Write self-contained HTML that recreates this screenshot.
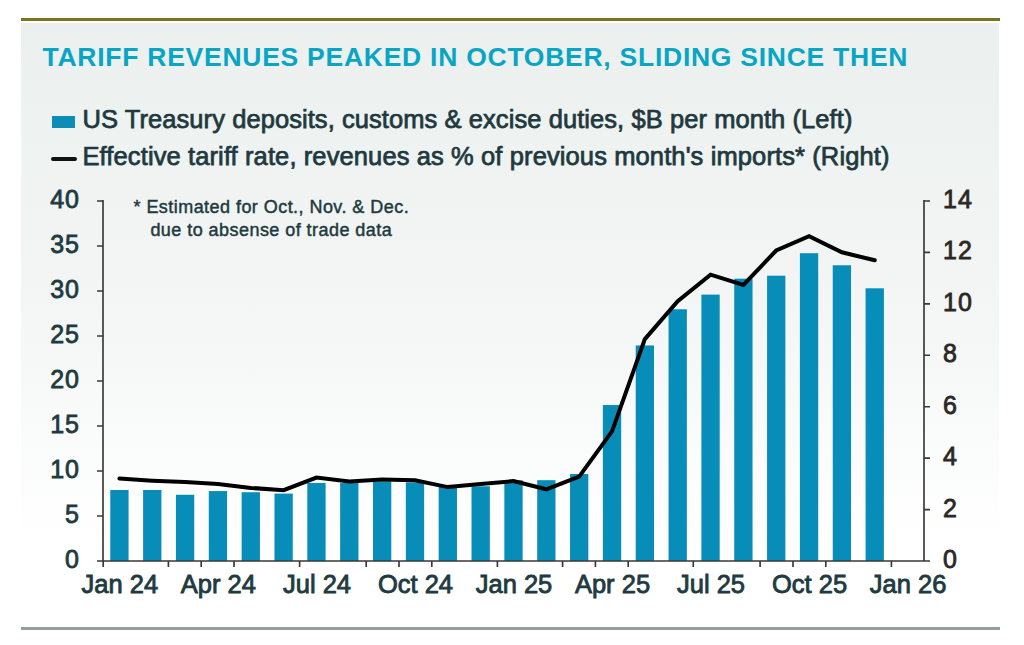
<!DOCTYPE html>
<html><head><meta charset="utf-8"><style>
html,body{margin:0;padding:0;background:#fff;}
body{width:1024px;height:645px;position:relative;overflow:hidden;font-family:"Liberation Sans",sans-serif;}
.topline{position:absolute;left:21px;top:18px;width:978.5px;height:3px;background:#7b7320;}
.panel{position:absolute;left:21px;top:23px;width:978px;height:560px;background:linear-gradient(#ebf0ef 0%,#f2f5f4 45%,#ffffff 93%);}
.botline{position:absolute;left:21px;top:626.5px;width:978.5px;height:3.5px;background:#939e9e;}
.title{position:absolute;left:42.5px;top:42.3px;font-size:26.5px;font-weight:bold;color:#09a5c4;white-space:nowrap;letter-spacing:0.74px;}
.leg{position:absolute;left:82.5px;font-size:25.5px;color:#21393e;white-space:nowrap;-webkit-text-stroke:0.75px #21393e;}
.legsq{position:absolute;left:52px;top:115.5px;width:22.5px;height:12.5px;background:#0b8db7;}
.legln{position:absolute;left:51px;top:157px;width:25.5px;height:4px;border-radius:2px;background:#111;}
.note{position:absolute;left:271.3px;top:196px;transform:translateX(-50%);font-size:18px;line-height:22.8px;letter-spacing:0.45px;color:#21393e;text-align:center;white-space:nowrap;-webkit-text-stroke:0.45px #21393e;}
.yl{position:absolute;right:944px;font-size:25px;color:#203a3f;line-height:0;white-space:nowrap;letter-spacing:1px;-webkit-text-stroke:0.8px #203a3f;}
.yr{position:absolute;left:943px;font-size:25px;color:#2d2724;line-height:0;white-space:nowrap;letter-spacing:1px;-webkit-text-stroke:0.8px #2d2724;}
.xl{position:absolute;top:584px;margin-left:0.5px;transform:translateX(-50%);font-size:25.5px;color:#203a3f;line-height:0;white-space:nowrap;letter-spacing:0px;-webkit-text-stroke:0.85px #203a3f;}
svg{position:absolute;left:0;top:0;}
</style></head><body>
<div class="topline"></div>
<div class="panel"></div>
<div class="botline"></div>
<div class="title">TARIFF REVENUES PEAKED IN OCTOBER, SLIDING SINCE THEN</div>
<div class="legsq"></div>
<div class="legln"></div>
<div class="leg" style="top:104.5px;letter-spacing:0.07px">US Treasury deposits, customs &amp; excise duties, $B per month (Left)</div>
<div class="leg" style="top:142px;letter-spacing:0.11px">Effective tariff rate, revenues as % of previous month's imports* (Right)</div>
<svg width="1024" height="645" viewBox="0 0 1024 645">
<rect x="103" y="201" width="821" height="360" fill="none"/>
<g fill="#078db7"><rect x="110.27" y="489.99" width="18.3" height="71.01"/><rect x="143.11" y="489.99" width="18.3" height="71.01"/><rect x="175.95" y="494.76" width="18.3" height="66.24"/><rect x="208.79" y="491.07" width="18.3" height="69.93"/><rect x="241.63" y="492.24" width="18.3" height="68.76"/><rect x="274.47" y="493.59" width="18.3" height="67.41"/><rect x="307.31" y="482.97" width="18.3" height="78.03"/><rect x="340.15" y="482.97" width="18.3" height="78.03"/><rect x="372.99" y="481.80" width="18.3" height="79.20"/><rect x="405.83" y="482.34" width="18.3" height="78.66"/><rect x="438.67" y="486.57" width="18.3" height="74.43"/><rect x="471.51" y="486.30" width="18.3" height="74.70"/><rect x="504.35" y="480.18" width="18.3" height="80.82"/><rect x="537.19" y="480.18" width="18.3" height="80.82"/><rect x="570.03" y="474.06" width="18.3" height="86.94"/><rect x="602.87" y="405.03" width="18.3" height="155.97"/><rect x="635.71" y="345.45" width="18.3" height="215.55"/><rect x="668.55" y="309.27" width="18.3" height="251.73"/><rect x="701.39" y="294.60" width="18.3" height="266.40"/><rect x="734.23" y="278.67" width="18.3" height="282.33"/><rect x="767.07" y="275.70" width="18.3" height="285.30"/><rect x="799.91" y="253.20" width="18.3" height="307.80"/><rect x="832.75" y="265.26" width="18.3" height="295.74"/><rect x="865.59" y="288.30" width="18.3" height="272.70"/></g>
<path d="M103 200V561H930M924 200V561M103.2 561V567M168.4 561V567M201.2 561V567M234.0 561V567M299.6 561V567M366.2 561V567M399.0 561V567M431.8 561V567M497.4 561V567M562.6 561V567M595.4 561V567M628.2 561V567M693.3 561V567M760.1 561V567M793.0 561V567M825.8 561V567M891.4 561V567M97 561.00H103M97 516.00H103M97 471.00H103M97 426.00H103M97 381.00H103M97 336.00H103M97 291.00H103M97 246.00H103M97 201.00H103M924 561.00H930M924 509.57H930M924 458.14H930M924 406.71H930M924 355.29H930M924 303.86H930M924 252.43H930M924 201.00H930" stroke="#3a3836" stroke-width="1.65" fill="none"/>
<polyline points="119.42,478.60 152.26,480.70 185.10,482.10 217.94,484.10 250.78,487.90 283.62,490.20 316.46,477.60 349.30,481.40 382.14,479.50 414.98,480.30 447.82,487.10 480.66,483.90 513.50,481.10 546.34,489.30 579.18,476.70 612.02,431.30 644.86,339.10 677.70,301.30 710.54,274.70 743.38,284.90 776.22,250.50 809.06,236.10 841.90,252.30 874.74,260.30" fill="none" stroke="#000" stroke-width="4" stroke-linejoin="miter" stroke-linecap="round"/>
</svg>
<div class="note">* Estimated for Oct., Nov. &amp; Dec.<br>due to absense of trade data</div>
<div class="yl" style="top:558.5px">0</div><div class="yl" style="top:513.5px">5</div><div class="yl" style="top:468.5px">10</div><div class="yl" style="top:423.5px">15</div><div class="yl" style="top:378.5px">20</div><div class="yl" style="top:333.5px">25</div><div class="yl" style="top:288.5px">30</div><div class="yl" style="top:243.5px">35</div><div class="yl" style="top:198.5px">40</div>
<div class="yr" style="top:559.0px">0</div><div class="yr" style="top:507.6px">2</div><div class="yr" style="top:456.1px">4</div><div class="yr" style="top:404.7px">6</div><div class="yr" style="top:353.3px">8</div><div class="yr" style="top:301.9px">10</div><div class="yr" style="top:250.4px">12</div><div class="yr" style="top:199.0px">14</div>
<div class="xl" style="left:119.4px">Jan 24</div><div class="xl" style="left:217.9px">Apr 24</div><div class="xl" style="left:316.5px">Jul 24</div><div class="xl" style="left:415.0px">Oct 24</div><div class="xl" style="left:513.5px">Jan 25</div><div class="xl" style="left:612.0px">Apr 25</div><div class="xl" style="left:710.5px">Jul 25</div><div class="xl" style="left:809.1px">Oct 25</div><div class="xl" style="left:907.6px">Jan 26</div>
</body></html>
